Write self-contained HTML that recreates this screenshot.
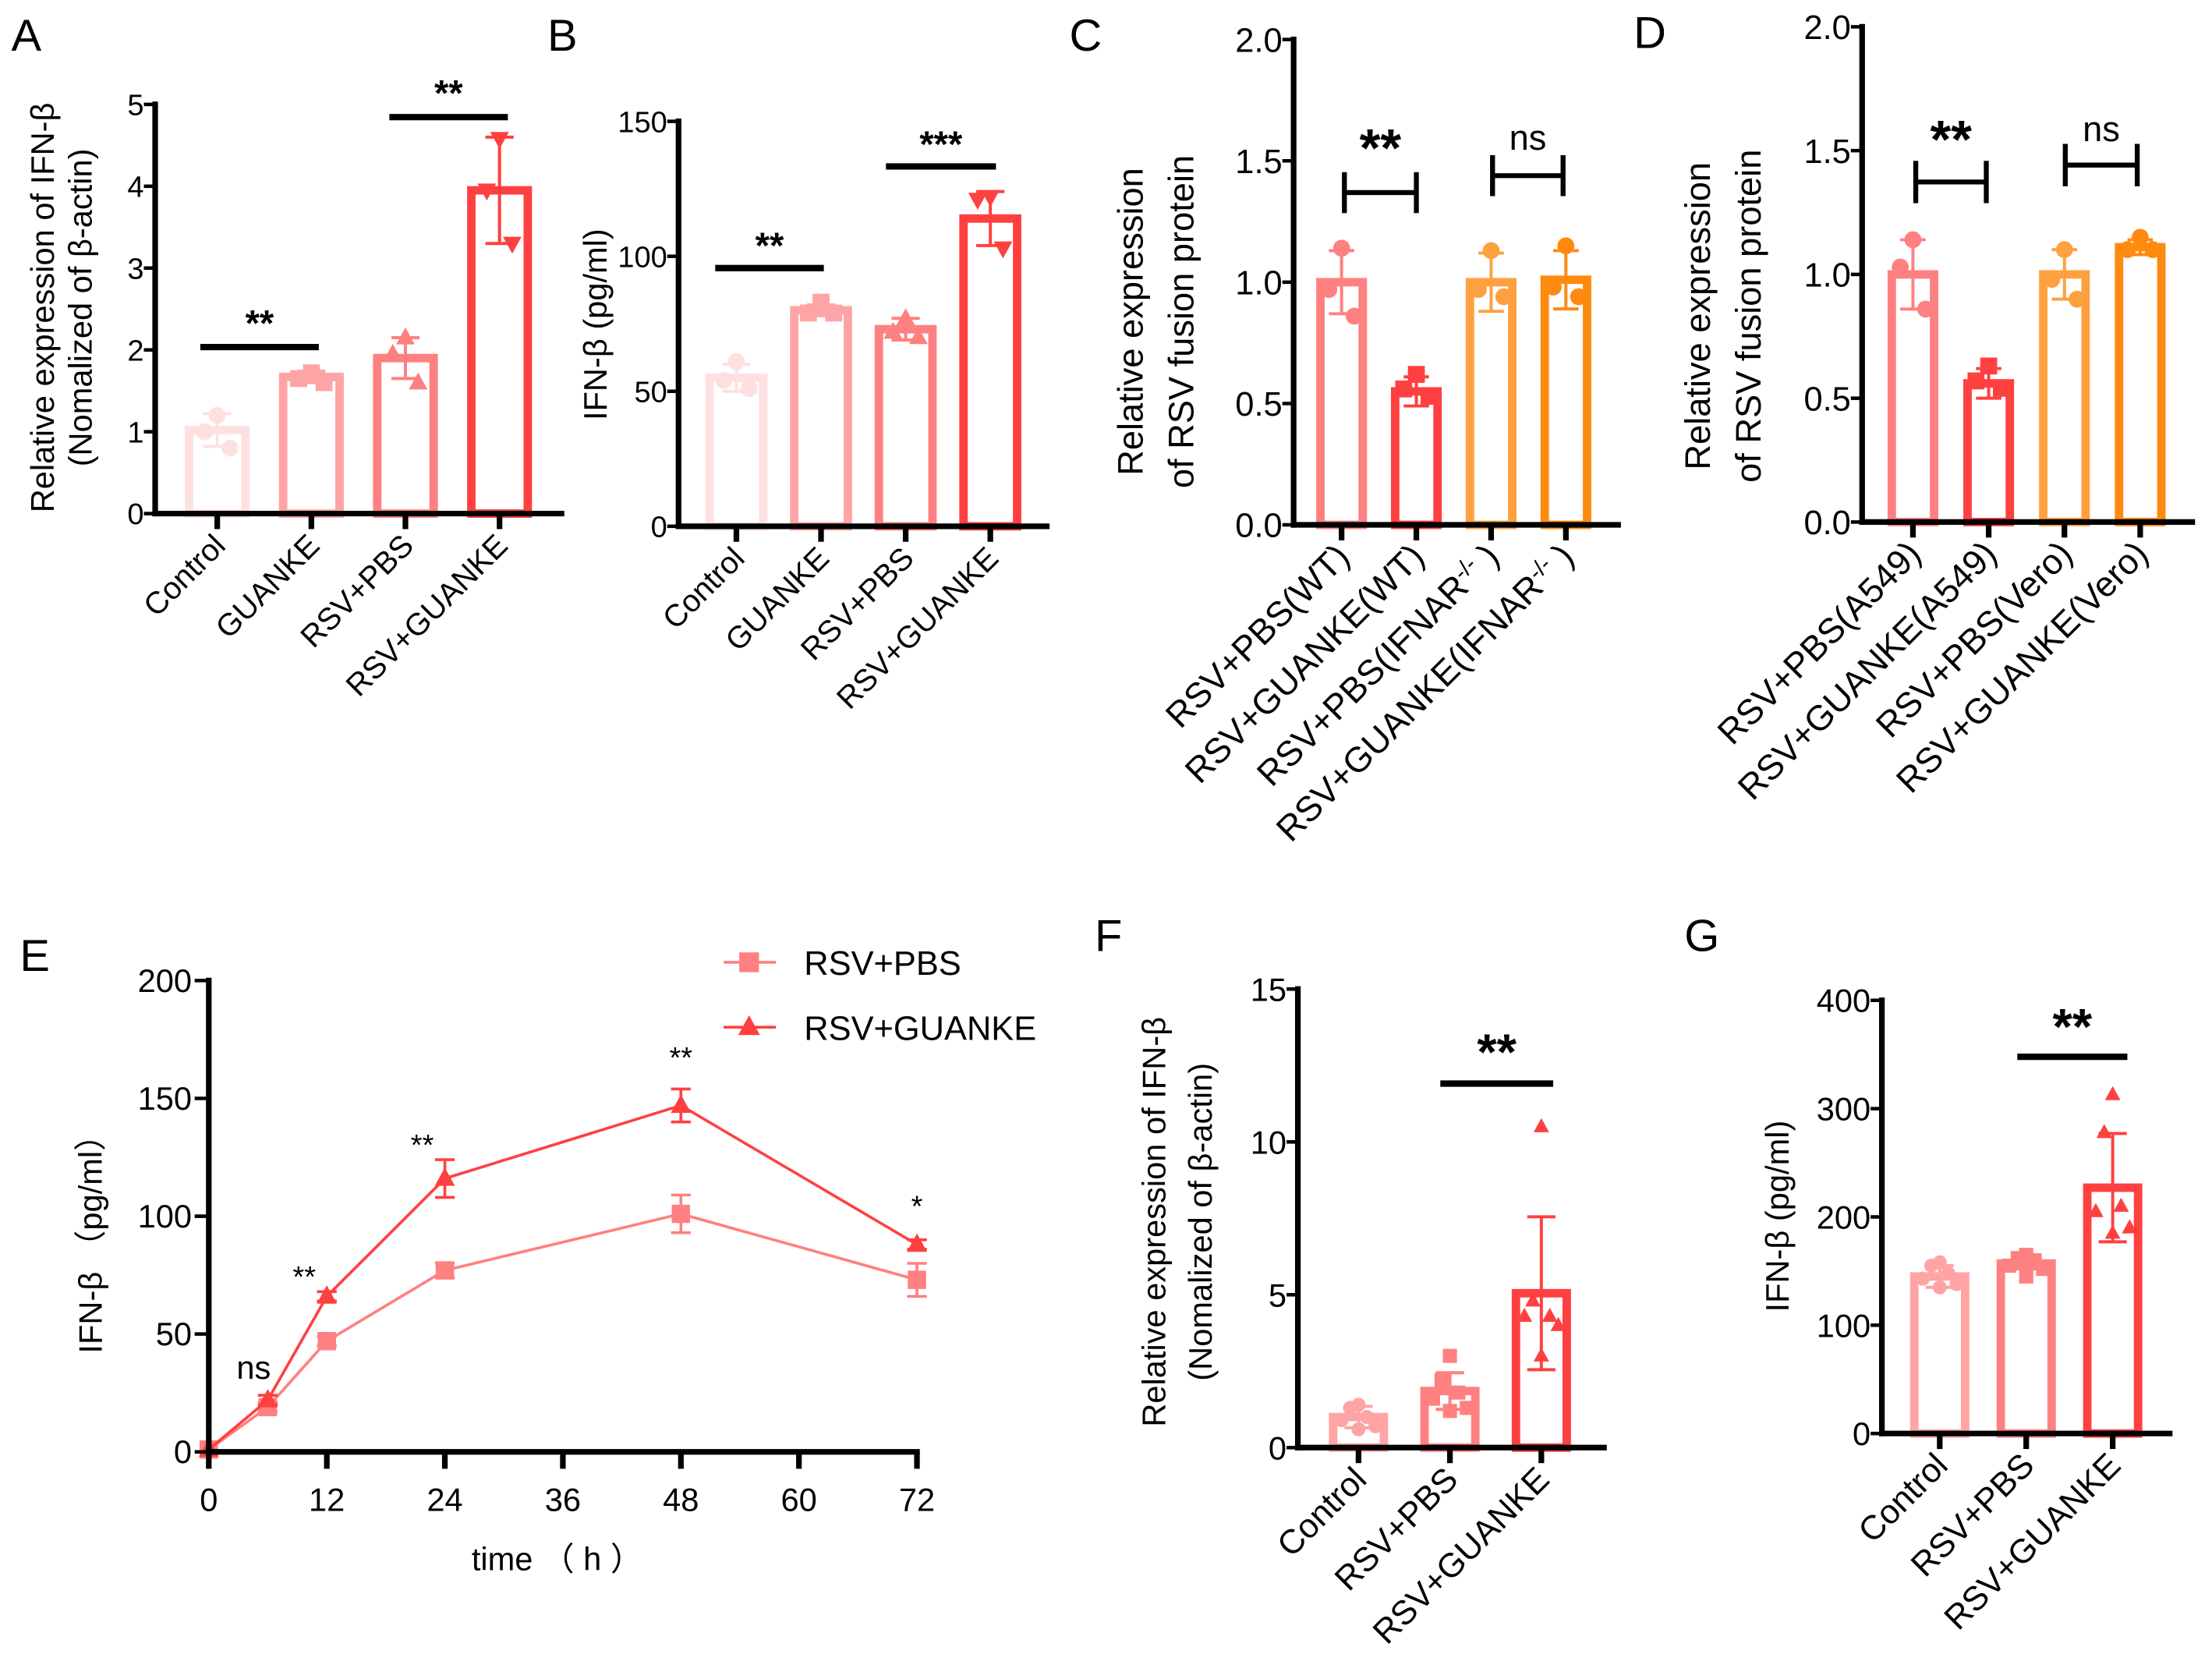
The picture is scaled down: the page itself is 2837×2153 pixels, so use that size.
<!DOCTYPE html>
<html><head><meta charset="utf-8"><style>
html,body{margin:0;padding:0;background:#fff;}
svg{display:block;}
text{font-family:"Liberation Sans",Arial,sans-serif;}
.tk{font-family:"Liberation Sans Narrow","Liberation Sans",sans-serif;}
</style></head><body>
<svg id="fig" width="2837" height="2153" viewBox="0 0 1568 1190" preserveAspectRatio="none" xmlns="http://www.w3.org/2000/svg">
<g id="root"></g>
</svg>
<script>
// ===== Panel A data =====
const aCats = ['Control','GUANKE','RSV+PBS','RSV+GUANKE'];
const aVals = [1.02,1.67,1.9,3.95];
const aErrs = [0.2,0.07,0.25,0.65];
const aPts = [[1.2,1.0,0.8],[1.72,1.65,1.6],[2.15,1.95,1.6],[4.58,3.95,3.3]];
const aTicks = [0,1,2,3,4,5];
// ===== Panel B data =====
const bCats = ['Control','GUANKE','RSV+PBS','RSV+GUANKE'];
const bVals = [55,80,73,114];
const bErrs = [5,2,4,10];
const bPts = [[61,54,51],[83,79,79],[77,72,70],[122,121,103]];
const bTicks = [0,50,100,150];
// ===== Panel C data =====
const cCats = ['RSV+PBS(WT)','RSV+GUANKE(WT)','RSV+PBS(IFNAR-/-)','RSV+GUANKE(IFNAR-/-)'];
const cVals = [1.0,0.55,1.0,1.01];
const cErrs = [0.13,0.06,0.12,0.12];
const cPts = [[1.14,0.97,0.86],[0.62,0.56,0.53],[1.13,0.97,0.94],[1.15,0.98,0.94]];
const cTicks = [0,0.5,1.0,1.5,2.0];
// ===== Panel D data =====
const dCats = ['RSV+PBS(A549)','RSV+GUANKE(A549)','RSV+PBS(Vero)','RSV+GUANKE(Vero)'];
const dVals = [1.0,0.56,1.0,1.11];
const dErrs = [0.14,0.06,0.1,0.03];
const dPts = [[1.14,1.03,0.86],[0.63,0.57,0.54],[1.1,0.98,0.9],[1.15,1.1,1.1]];
const dTicks = [0,0.5,1.0,1.5,2.0];
// ===== Panel E data =====
const eTimes = [0,6,12,24,48,72];
const ePbs = [1,19,47,77,101,73];
const ePbsErr = [0,2,2,3,8,7];
const eGk = [1,22,66,116,147,88];
const eGkErr = [0,2,2,8,7,2];
const eXTicks = [0,12,24,36,48,60,72];
const eYTicks = [0,50,100,150,200];
const eSig = ['ns','**','**','**','*'];
const eSigT = [6,12,24,48,72];
const eSigV = [31,70,126,163,100];
// ===== Panel F data =====
const fCats = ['Control','RSV+PBS','RSV+GUANKE'];
const fVals = [1.0,1.85,5.05];
const fErrs = [0.35,0.6,2.5];
const fPts = [[1.4,1.3,1.0,0.9,0.7,0.6],[3.0,2.2,1.8,1.6,1.3,1.2],[10.5,4.8,4.3,4.3,4.0,3.0]];
const fTicks = [0,5,10,15];
// ===== Panel G data =====
const gCats = ['Control','RSV+PBS','RSV+GUANKE'];
const gVals = [145,157,227];
const gErrs = [10,5,50];
const gPts = [[158,155,148,143,138,135],[165,162,160,155,152,145],[313,278,210,205,190,185]];
const gTicks = [0,100,200,300,400];

const NS='http://www.w3.org/2000/svg';
const root=document.getElementById('root');
function mk(tag,attrs,parent){const e=document.createElementNS(NS,tag);for(const k in attrs)e.setAttribute(k,attrs[k]);(parent||root).appendChild(e);return e;}
function txt(s,attrs,parent){const e=mk('text',attrs,parent);e.textContent=s;return e;}

function marker(g,shape,x,y,r,col){
  let e;
  if(shape==='c'){e=mk('circle',{cx:x,cy:y,r:r,fill:col},g);}
  else if(shape==='s'){e=mk('rect',{x:x-r,y:y-r,width:2*r,height:2*r,fill:col},g);}
  else if(shape==='u'){e=mk('polygon',{points:`${x},${y-r*1.2} ${x-r*1.1},${y+r*0.8} ${x+r*1.1},${y+r*0.8}`,fill:col},g);}
  else {e=mk('polygon',{points:`${x},${y+r*1.2} ${x-r*1.1},${y-r*0.8} ${x+r*1.1},${y-r*0.8}`,fill:col},g);}
  
  
}

function barChart(o){
  const g=mk('g',{});
  
  
  const ymax=o.ticks[o.ticks.length-1];
  const y=v=>o.y0-(v/ymax)*(o.y0-o.yTop);
  const x=i=>o.c0+i*o.step;
  const hw=o.bw/2;
  o.vals.forEach((v,i)=>{
    const r=mk('rect',{x:x(i)-hw+3,y:y(v),width:o.bw-6,height:o.y0-y(v),fill:'none',stroke:o.colors[i],'stroke-width':6},g);
    
    
  });
  o.vals.forEach((v,i)=>{
    const col=o.colors[i], e=o.errs[i], cw=o.cap;
    const eg=mk('g',{stroke:col,'stroke-width':2.2},g);
    
    
    mk('line',{x1:x(i),x2:x(i),y1:y(v-e),y2:y(v+e)},eg);
    mk('line',{x1:x(i)-cw,x2:x(i)+cw,y1:y(v+e),y2:y(v+e)},eg);
    mk('line',{x1:x(i)-cw,x2:x(i)+cw,y1:y(v-e),y2:y(v-e)},eg);
    const pts=o.pts[i], n=pts.length;
    pts.forEach((p,j)=>{
      const off=n===3?[0,-1,1][j]*o.jit:([0,-1,1,-2,2,0][j]*o.jit);
      marker(g,o.shapes[i],x(i)+off,y(p),o.mr,col);
    });
  });
  const ax=mk('g',{stroke:'#000','stroke-width':4,fill:'none'},g);
  
  
  mk('line',{x1:o.ax,x2:o.ax,y1:o.yTop-2,y2:o.y0+2},ax);
  mk('line',{x1:o.ax-2,x2:o.axEnd,y1:o.y0,y2:o.y0},ax);
  o.ticks.forEach((t,k)=>{
    mk('line',{x1:o.ax-8,x2:o.ax,y1:y(t),y2:y(t),'stroke-width':2.5},ax);
    const tl=txt(o.tickLabels?o.tickLabels[k]:String(t),{x:o.ax-8,y:y(t)+o.tfs*0.36,'text-anchor':'end','font-size':o.tfs,class:'tk'},g);
    
    
  });
  o.cats.forEach((c,i)=>{
    mk('line',{x1:x(i),x2:x(i),y1:o.y0,y2:o.y0+11},ax);
    const t=mk('text',{'text-anchor':'end','font-size':o.xfs,transform:`translate(${x(i)+7},${o.y0+o.xoff}) rotate(-45)`},g);
    
    
    const m=c.match(/^(.*)\(IFNAR-\/-\)$/);
    if(m){t.textContent=m[1]+'(IFNAR';const s=mk('tspan',{dy:-8,'font-size':o.xfs*0.65},t);s.textContent='-/-';const s2=mk('tspan',{dy:8},t);s2.textContent='   )';}
    else t.textContent=c;
  });
  const yt=mk('text',{'text-anchor':'middle','font-size':o.yfs,transform:`translate(${o.ylx},${o.yly}) rotate(-90)`},g);
  
  
  o.ylab.forEach((l,k)=>{const s=mk('tspan',{x:0,dy:k===0?0:o.yld},yt);s.textContent=l;});
  return {g,x,y};
}
function sigLine(g,x1,x2,yy,label,fs,ty){
  const l=mk('line',{x1:x1,x2:x2,y1:yy,y2:yy,stroke:'#000','stroke-width':4.5},g);
  
  
  const t=txt(label,{x:(x1+x2)/2,y:ty,'text-anchor':'middle','font-size':fs,'font-weight':'bold'},g);
  
  
}
function bracket(g,x1,x2,yt,yb,label,fs,ty,bold){
  const p=mk('path',{d:`M${x1},${yt}V${yb}M${x2},${yt}V${yb}M${x1},${(yt+yb)/2}H${x2}`,stroke:'#000','stroke-width':3.5,fill:'none'},g);
  
  
  const t=txt(label,{x:(x1+x2)/2,y:ty,'text-anchor':'middle','font-size':fs,'font-weight':bold?'bold':'normal'},g);
  
  
}
function letter(s,x,y){const t=txt(s,{x:x,y:y,'font-size':32});}

const P4=['#ffe0e0','#ffa4a4','#ff8080','#ff4040'];
const A=barChart({name:'panel-a',cats:aCats,vals:aVals,errs:aErrs,pts:aPts,ticks:aTicks,shapes:['c','s','u','d'],colors:P4,
 ax:110,axEnd:400,y0:364,yTop:74,c0:154,step:66.7,bw:46,cap:10,jit:9,mr:6,tfs:21,xfs:22,xoff:24,
 ylx:38,yly:218,ylab:['Relative expression of  IFN-β','(Nomalized of β-actin)'],yfs:23,yld:27});
sigLine(A.g,142,226,246,'**',26,238);
sigLine(A.g,276,360,83,'**',26,75);
const B=barChart({name:'panel-b',cats:bCats,vals:bVals,errs:bErrs,pts:bPts,ticks:bTicks,shapes:['c','s','u','d'],colors:P4,
 ax:481,axEnd:744,y0:373,yTop:86,c0:522,step:60,bw:44,cap:10,jit:9,mr:6,tfs:21,xfs:22,xoff:24,
 ylx:430,yly:230,ylab:['IFN-β (pg/ml)'],yfs:23,yld:0});
sigLine(B.g,507,584,190,'**',26,183);
sigLine(B.g,628,706,118,'***',26,111);
const C=barChart({name:'panel-c',cats:cCats,vals:cVals,errs:cErrs,pts:cPts,ticks:cTicks,tickLabels:['0.0','0.5','1.0','1.5','2.0'],shapes:['c','s','c','c'],colors:['#ff8080','#ff4040','#ffa040','#ff8a10'],
 ax:917,axEnd:1149,y0:372,yTop:28,c0:951,step:53,bw:36,cap:9,jit:9,mr:6,tfs:24,xfs:25,xoff:24,
 ylx:810,yly:228,ylab:['Relative expression','of RSV fusion protein'],yfs:25,yld:36});
bracket(C.g,953,1004,122,151,'**',38,118,true);
bracket(C.g,1058,1108,110,139,'ns',25,106,false);
const D=barChart({name:'panel-d',cats:dCats,vals:dVals,errs:dErrs,pts:dPts,ticks:dTicks,tickLabels:['0.0','0.5','1.0','1.5','2.0'],shapes:['c','s','c','c'],colors:['#ff8080','#ff4040','#ffa040','#ff8a10'],
 ax:1320,axEnd:1556,y0:370,yTop:19,c0:1356,step:53.7,bw:36,cap:9,jit:9,mr:6,tfs:24,xfs:25,xoff:24,
 ylx:1212,yly:224,ylab:['Relative expression','of RSV fusion protein'],yfs:25,yld:36});
bracket(D.g,1358,1408,114,144,'**',38,112,true);
bracket(D.g,1464,1515,102,132,'ns',25,100,false);
const F=barChart({name:'panel-f',cats:fCats,vals:fVals,errs:fErrs,pts:fPts,ticks:fTicks,shapes:['c','s','u'],colors:['#ffa4a4','#ff8080','#ff4040'],
 ax:920,axEnd:1139,y0:1026,yTop:701,c0:963,step:64.8,bw:42,cap:10,jit:6,mr:5,tfs:23,xfs:24,xoff:24,
 ylx:826,yly:866,ylab:['Relative expression of IFN-β','(Nomalized of    β-actin)'],yfs:23,yld:33});
sigLine(F.g,1021,1101,768,'**',36,758);
const G=barChart({name:'panel-g',cats:gCats,vals:gVals,errs:gErrs,pts:gPts,ticks:gTicks,shapes:['c','s','u'],colors:['#ffa4a4','#ff8080','#ff4040'],
 ax:1334,axEnd:1540,y0:1016,yTop:709,c0:1375,step:61.3,bw:42,cap:10,jit:6,mr:5,tfs:23,xfs:24,xoff:24,
 ylx:1268,yly:862,ylab:['IFN-β  (pg/ml)'],yfs:23,yld:0});
sigLine(G.g,1430,1508,749,'**',36,740);

(function(){
  const g=mk('g',{});
  
  
  const x0=148,x1=650,y0=1029,yT=695;
  const x=t=>x0+t/72*(x1-x0), y=v=>y0-v/200*(y0-yT);
  const series=[{v:ePbs,e:ePbsErr,c:'#ff8080',s:'s',n:'series-rsv-pbs'},{v:eGk,e:eGkErr,c:'#ff4040',s:'u',n:'series-rsv-guanke'}];
  series.forEach(S=>{
    const pl=mk('polyline',{points:eTimes.map((t,i)=>x(t)+','+y(S.v[i])).join(' '),fill:'none',stroke:S.c,'stroke-width':2},g);
    
    
    eTimes.forEach((t,i)=>{
      if(S.e[i]>0){
        const eg=mk('g',{stroke:S.c,'stroke-width':2},g);
        
        
        mk('line',{x1:x(t),x2:x(t),y1:y(S.v[i]-S.e[i]),y2:y(S.v[i]+S.e[i])},eg);
        mk('line',{x1:x(t)-7,x2:x(t)+7,y1:y(S.v[i]+S.e[i]),y2:y(S.v[i]+S.e[i])},eg);
        mk('line',{x1:x(t)-7,x2:x(t)+7,y1:y(S.v[i]-S.e[i]),y2:y(S.v[i]-S.e[i])},eg);
      }
      marker(g,S.s,x(t),y(S.v[i]),6.5,S.c);
    });
  });
  const ax=mk('g',{stroke:'#000','stroke-width':4},g);
  
  
  mk('line',{x1:x0,x2:x0,y1:yT-2,y2:y0+2},ax);
  mk('line',{x1:x0-2,x2:x1+2,y1:y0,y2:y0},ax);
  eYTicks.forEach(t=>{
    mk('line',{x1:x0-10,x2:x0,y1:y(t),y2:y(t),'stroke-width':2.5},ax);
    const tl=txt(String(t),{x:x0-12,y:y(t)+8,'text-anchor':'end','font-size':23,class:'tk'},g);
    
    
  });
  eXTicks.forEach(t=>{
    mk('line',{x1:x(t),x2:x(t),y1:y0,y2:y0+12},ax);
    const tl=txt(String(t),{x:x(t),y:y0+42,'text-anchor':'middle','font-size':23,class:'tk'},g);
    
    
  });
  eSig.forEach((s,i)=>{
    const t=txt(s,{x:x(eSigT[i])-(i===0?10:(i<3?16:0)),y:y(eSigV[i]),'text-anchor':'middle','font-size':s==='ns'?23:21},g);
    
    
  });
  const xt=txt('time （ h ）',{x:395,y:1113,'text-anchor':'middle','font-size':23,class:'tk'},g);
  
  
  const yt=txt('IFN-β （pg/ml）',{'text-anchor':'middle','font-size':23,transform:'translate(72,876) rotate(-90)'},g);
  
  
  [['RSV+PBS','#ff8080','s',682],['RSV+GUANKE','#ff4040','u',728]].forEach(L=>{
    const lg=mk('g',{},g);
    
    
    mk('line',{x1:513,x2:550,y1:L[3],y2:L[3],stroke:L[1],'stroke-width':2},lg);
    marker(lg,L[2],531,L[3],7,L[1]);
    txt(L[0],{x:570,y:L[3]+9,'font-size':24,class:'tk'},lg);
  });
})();

letter('A',8,36);letter('B',388,36);letter('C',758,36);letter('D',1158,34);
letter('E',14,688);letter('F',776,674);letter('G',1194,674);
</script>
</body></html>
